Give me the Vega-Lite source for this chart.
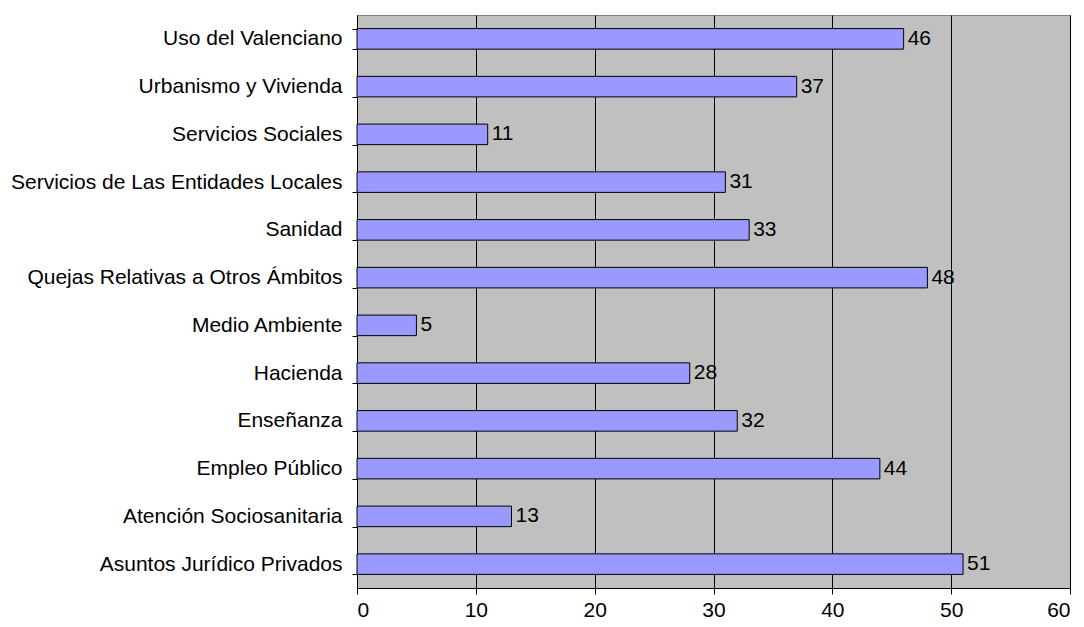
{
  "$schema": "https://vega.github.io/schema/vega-lite/v6.json",
  "width": 713,
  "height": 573,
  "autosize": {"type": "none"},
  "padding": {"left": 357, "top": 15, "right": 14, "bottom": 39},
  "background": "white",
  "config": {
    "view": {"fill": "#C0C0C0", "stroke": "#808080", "strokeWidth": 1},
    "font": "Liberation Sans",
    "axis": {"labelFont": "Liberation Sans", "labelFontSize": 21, "labelColor": "black", "domainColor": "black", "tickColor": "black", "labelLimit": 0}
  },
  "data": {
    "values": [
      {"tema": "Uso del Valenciano", "quejas": 46},
      {"tema": "Urbanismo y Vivienda", "quejas": 37},
      {"tema": "Servicios Sociales", "quejas": 11},
      {"tema": "Servicios de Las Entidades Locales", "quejas": 31},
      {"tema": "Sanidad", "quejas": 33},
      {"tema": "Quejas Relativas a Otros Ámbitos", "quejas": 48},
      {"tema": "Medio Ambiente", "quejas": 5},
      {"tema": "Hacienda", "quejas": 28},
      {"tema": "Enseñanza", "quejas": 32},
      {"tema": "Empleo Público", "quejas": 44},
      {"tema": "Atención Sociosanitaria", "quejas": 13},
      {"tema": "Asuntos Jurídico Privados", "quejas": 51}
    ]
  },
  "encoding": {
    "y": {
      "field": "tema",
      "type": "nominal",
      "sort": null,
      "scale": {"paddingInner": 0.57, "paddingOuter": 0.285},
      "axis": {"title": null, "tickBand": "extent", "tickSize": 5, "labelPadding": 10, "domainColor": "black", "grid": false}
    },
    "x": {
      "field": "quejas",
      "type": "quantitative",
      "scale": {"domain": [0, 60], "nice": false},
      "axis": {"title": null, "values": [0, 10, 20, 30, 40, 50, 60], "tickSize": 6, "labelPadding": 5, "grid": true, "gridColor": "black", "gridOpacity": 1, "gridWidth": 1}
    }
  },
  "layer": [
    {"mark": {"type": "bar", "fill": "#9999FF", "stroke": "black", "strokeWidth": 1}},
    {"mark": {"type": "text", "align": "left", "baseline": "middle", "dx": 4, "fontSize": 21, "font": "Liberation Sans", "color": "black"},
     "encoding": {"text": {"field": "quejas", "type": "quantitative"}}}
  ]
}
